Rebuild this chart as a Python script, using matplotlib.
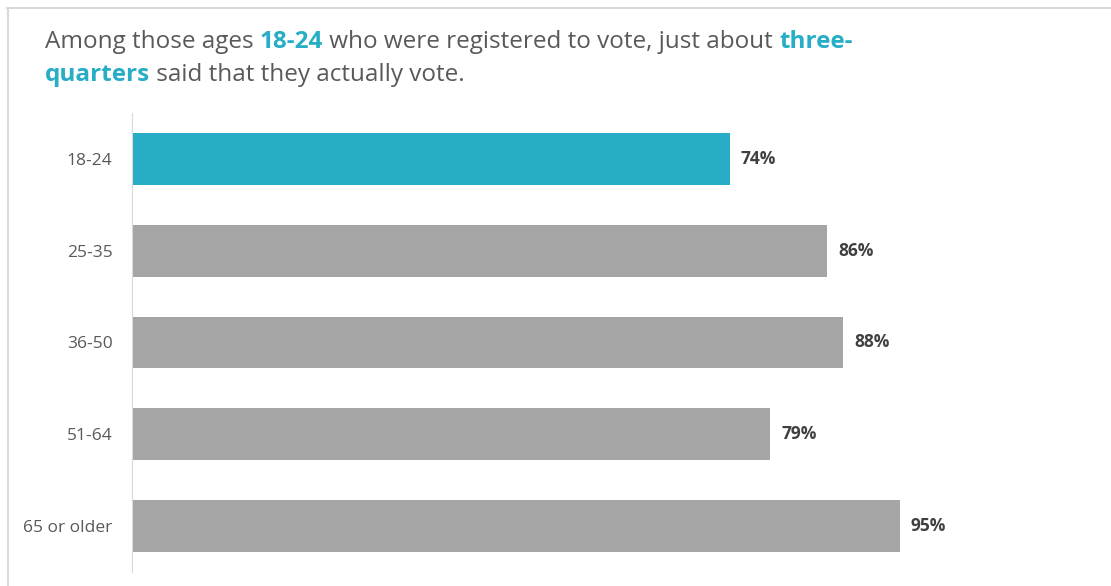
import matplotlib.pyplot as plt

plt.rcParams['font.family'] = ['Open Sans', 'DejaVu Sans']

age_groups = ["18-24", "25-35", "36-50", "51-64", "65 or older"]
voted_pct = [74, 86, 88, 79, 95]

TEAL = "#27ADC5"
GRAY_BAR = "#A5A5A5"
TEXT_GRAY = "#595959"
LABEL_DARK = "#404040"

fig = plt.figure(figsize=(11.11, 5.86), dpi=100)
ax = fig.add_axes([0.1188, 0.0239, 0.8712, 0.7833])

colors = [TEAL] + [GRAY_BAR] * (len(age_groups) - 1)
ypos = list(range(len(age_groups)))
bars = ax.barh(ypos, voted_pct, height=0.565, color=colors)

for bar, v in zip(bars, voted_pct):
    ax.annotate(f"{v}%", (bar.get_width(), bar.get_y() + bar.get_height() / 2),
                xytext=(8, 0), textcoords="offset points", va="center", ha="left",
                fontsize=12.5, fontweight="bold", color=LABEL_DARK)

ax.set_yticks(ypos)
ax.set_yticklabels(age_groups, fontsize=12.5, color=TEXT_GRAY)
ax.tick_params(axis="y", length=0, pad=14)
ax.set_ylim(4.5, -0.5)
ax.set_xlim(0, 119.8)
ax.set_xticks([])
for side in ["top", "right", "bottom"]:
    ax.spines[side].set_visible(False)
ax.spines["left"].set_color("#D9D9D9")

# headline with highlighted phrases, pieces laid end to end on one baseline
renderer = fig.canvas.get_renderer()
W = fig.get_figwidth() * fig.dpi


def write_line(parts, x, y):
    for txt, highlight in parts:
        t = fig.text(x, y, txt, fontsize=17.5, va="baseline", ha="left",
                     color=TEAL if highlight else TEXT_GRAY,
                     fontweight="bold" if highlight else "normal")
        x += t.get_window_extent(renderer).width / W


write_line([("Among those ages ", False), ("18-24", True),
            (" who were registered to vote, just about ", False), ("three-", True)],
           45 / 1111, 1 - 48 / 586)
write_line([("quarters", True), (" said that they actually vote.", False)],
           45 / 1111, 1 - 81 / 586)

# frame edges of the panel
fig.add_artist(plt.Line2D([7 / 1111, 1], [1 - 7.5 / 586] * 2, color="#D9D9D9", lw=1.5))
fig.add_artist(plt.Line2D([7.5 / 1111] * 2, [0, 1 - 7.5 / 586], color="#D9D9D9", lw=1.5))

fig.savefig("out.png", dpi=100)
